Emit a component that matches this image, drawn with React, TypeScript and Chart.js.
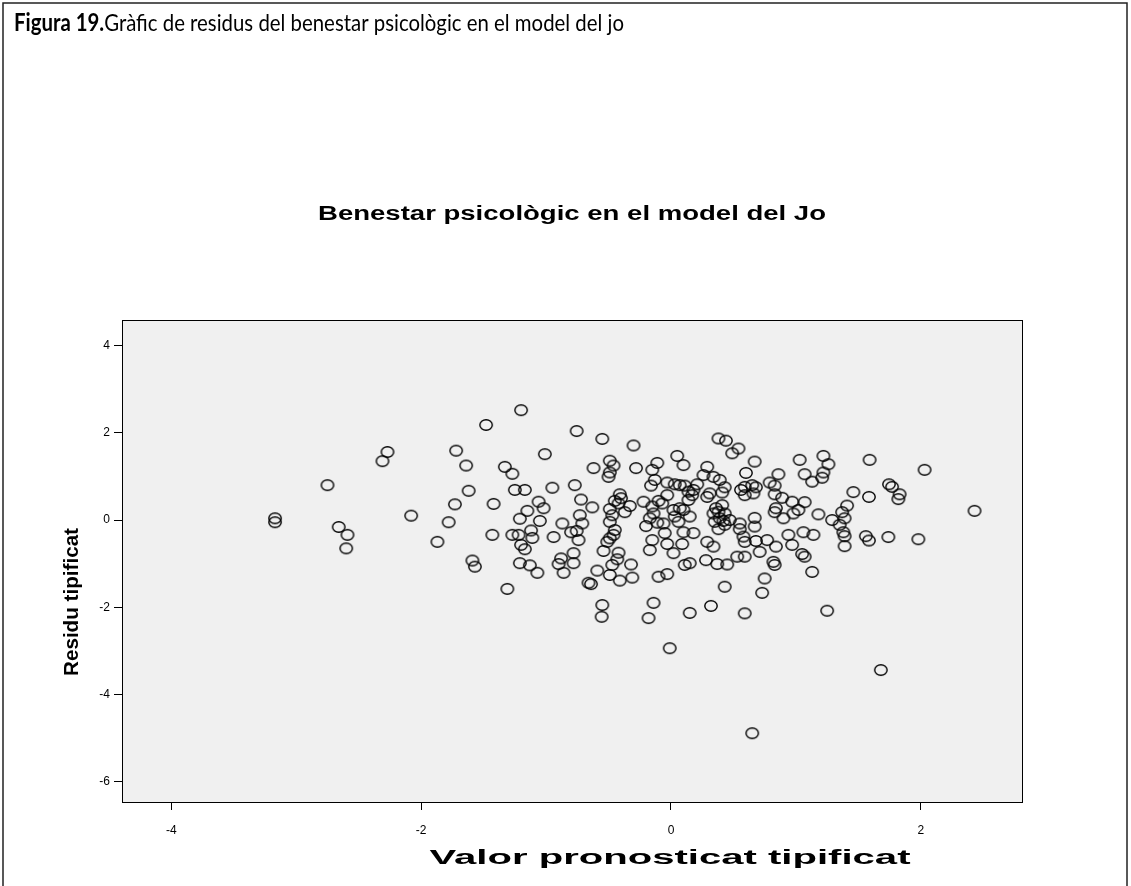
import React, { useEffect, useRef } from 'react';
import { Chart, registerables } from 'chart.js';

Chart.register(...registerables);

const captionBold = 'Figura 19.';
const captionText = 'Gràfic de residus del benestar psicològic en el model del jo';
const chartTitle = 'Benestar psicològic en el model del Jo';
const xAxisTitle = 'Valor pronosticat tipificat';
const yAxisTitle = 'Residu tipificat';

const xTickValues = [-4, -2, 0, 2];
const yTickValues = [-6, -4, -2, 0, 2, 4];
const xLimits = [-4.395, 2.818];
const yLimits = [-6.49, 4.587];

// Valor pronosticat tipificat (x)
const predicted = [
  -3.17, -3.17, -2.75, -2.66, -2.59, -2.60, -2.31, -2.27, -2.08, -1.87,
  -1.20, -1.48, -1.72, -1.01, -1.64, -1.33, -1.27, -1.62, -1.25, -1.17,
  -0.95, -1.73, -1.42, -1.06, -1.02, -1.15, -1.21, -1.05, -1.78, -0.87,
  -1.43, -1.27, -1.22, -1.12, -1.11, -0.94, -1.20, -1.17, -1.59, -1.57,
  -1.21, -1.13, -1.07, -0.88, -0.90, -0.86, -1.31,
  -0.755, -0.55, -0.30, -0.49, -0.46, -0.49, -0.50, -0.62, -0.28, -0.15,
  -0.11, -0.13, -0.16, -0.77, -0.72, -0.63, -0.41, -0.40, -0.45, -0.42,
  -0.33, -0.49, -0.37, -0.47, -0.22, -0.15, -0.10, -0.14, -0.17, -0.20,
  -0.73, -0.71, -0.49, -0.45, -0.11,
  -0.80, -0.74, -0.755, -0.51, -0.49, -0.46, -0.54, -0.15, -0.17, -0.78,
  -0.78, -0.42, -0.43, -0.47, -0.32, -0.59, -0.49, -0.41, -0.31, -0.10,
  -0.66, -0.64, -0.55, -0.555, -0.14, -0.18,
  0.38, 0.44, 0.54, 0.49, 0.05, 0.10, 0.67, 0.60, 0.29, 0.26,
  0.34, 0.39, 0.43, 0.41, -0.03, 0.03, 0.07, 0.11, 0.21, 0.14,
  0.18, 0.17, 0.14, -0.03, -0.07, 0.29, 0.31, 0.41, 0.36, 0.34,
  0.38, 0.43, 0.39, 0.42, 0.47, 0.35, 0.38, 0.43, 0.56, 0.59,
  0.65, 0.68, 0.66, 0.59, 0.02, 0.07, 0.10, 0.03, 0.15, 0.06,
  -0.06, 0.55, 0.67, 0.67, -0.05, 0.10, 0.18, 0.55,
  0.58, -0.03, 0.09, 0.02, 0.29, 0.34, 0.59, 0.68, 0.28, 0.11,
  0.15, 0.37, 0.45, 0.53, 0.59, 0.71, -0.03, 0.43, 0.32, 0.15,
  0.59, -0.01,
  1.22, 1.26, 1.03, 1.07, 1.22, 1.21, 1.13, 0.86, 0.79, 0.83,
  0.83, 0.89, 0.97, 1.07, 1.02, 0.98, 0.84, 0.83, 0.90, 1.18,
  1.46, 1.41, 1.37, 1.39, 1.29, 1.35, 1.59, 1.585, 0.94, 1.06,
  1.14, 1.38, 1.39, 0.77, 0.84, 0.97, 0.82, 0.83, 1.05, 1.07,
  1.13, 0.75, 0.73, 1.25, 1.39, 1.56, 1.585,
  2.03, 1.745, 1.77, 1.83, 1.82, 2.43, 1.74, 1.98, 1.68, 0.65,
];

// Residu tipificat (y)
const residual = [
  0.04, -0.05, 0.80, -0.16, -0.34, -0.65, 1.35, 1.56, 0.10, -0.50,
  2.52, 2.18, 1.59, 1.51, 1.25, 1.22, 1.06, 0.67, 0.69, 0.69,
  0.74, 0.36, 0.37, 0.42, 0.27, 0.21, 0.03, -0.02, -0.05, -0.08,
  -0.34, -0.34, -0.34, -0.24, -0.41, -0.39, -0.57, -0.67, -0.93, -1.07,
  -0.99, -1.04, -1.21, -0.88, -1.01, -1.21, -1.58,
  2.04, 1.86, 1.71, 1.36, 1.25, 1.09, 0.99, 1.19, 1.19, 1.15,
  1.31, 0.92, 0.79, 0.80, 0.47, 0.29, 0.59, 0.50, 0.44, 0.38,
  0.32, 0.25, 0.18, 0.11, 0.42, 0.31, 0.44, 0.15, 0.04, -0.14,
  0.11, -0.08, -0.04, -0.23, -0.06,
  -0.28, -0.46, -0.25, -0.50, -0.42, -0.34, -0.71, -0.46, -0.69, -0.76,
  -0.99, -0.75, -0.90, -1.03, -1.02, -1.16, -1.26, -1.39, -1.32, -1.30,
  -1.44, -1.47, -1.95, -2.22, -1.90, -2.25,
  1.87, 1.82, 1.64, 1.53, 1.47, 1.26, 1.34, 1.08, 1.22, 1.03,
  0.99, 0.92, 0.75, 0.63, 0.86, 0.82, 0.80, 0.79, 0.82, 0.65,
  0.69, 0.57, 0.46, 0.57, 0.38, 0.53, 0.61, 0.34, 0.27, 0.15,
  0.19, 0.15, 0.04, -0.02, 0.00, -0.04, -0.21, -0.11, 0.69, 0.57,
  0.80, 0.75, 0.61, 0.76, 0.23, 0.27, 0.23, 0.08, 0.08, -0.04,
  -0.08, -0.08, 0.05, -0.15, -0.30, -0.28, -0.30, -0.21,
  -0.38, -0.55, -0.55, -0.76, -0.50, -0.61, -0.50, -0.48, -0.92, -1.03,
  -0.99, -1.01, -1.02, -0.84, -0.84, -0.73, -1.24, -1.53, -1.97, -2.13,
  -2.14, -2.94,
  1.47, 1.28, 1.38, 1.05, 1.09, 0.97, 0.88, 1.05, 0.86, 0.79,
  0.59, 0.51, 0.42, 0.41, 0.23, 0.15, 0.27, 0.18, 0.04, 0.13,
  0.64, 0.33, 0.18, 0.04, 0.00, -0.11, 1.38, 0.53, -0.34, -0.28,
  -0.34, -0.28, -0.37, -0.46, -0.61, -0.57, -0.96, -1.03, -0.78, -0.84,
  -1.19, -1.34, -1.67, -2.08, -0.60, -0.37, -0.47,
  1.15, 0.82, 0.76, 0.59, 0.48, 0.21, -0.39, -0.44, -3.44, -4.89,
];

function makeRing(): HTMLCanvasElement {
  const c = document.createElement('canvas');
  c.width = 16;
  c.height = 14;
  const g = c.getContext('2d')!;
  g.strokeStyle = '#000';
  g.lineWidth = 1.4;
  g.beginPath();
  g.ellipse(8, 7, 6.2, 5.2, 0, 0, Math.PI * 2);
  g.stroke();
  return c;
}

function stretched(
  ctx: CanvasRenderingContext2D,
  text: string,
  cx: number,
  cy: number,
  font: string,
  targetW: number,
  rotate = false
) {
  ctx.save();
  ctx.font = font;
  const w = ctx.measureText(text).width;
  const s = targetW / w;
  ctx.translate(cx, cy);
  if (rotate) ctx.rotate(-Math.PI / 2);
  ctx.scale(s, 1);
  ctx.textAlign = 'center';
  ctx.textBaseline = 'middle';
  ctx.fillStyle = '#000';
  ctx.fillText(text, 0, 0);
  ctx.restore();
}

const decor = {
  id: 'decor',
  beforeDraw(chart: any) {
    const { ctx, chartArea: a } = chart;
    ctx.save();
    ctx.fillStyle = '#fff';
    ctx.fillRect(0, 0, chart.width, chart.height);
    ctx.fillStyle = '#f0f0f0';
    ctx.fillRect(a.left, a.top, a.right - a.left, a.bottom - a.top);
    ctx.restore();
  },
  afterDraw(chart: any) {
    const { ctx, chartArea: a } = chart;
    ctx.save();
    ctx.strokeStyle = '#000';
    ctx.lineWidth = 1;
    ctx.strokeRect(a.left + 0.5, a.top + 0.5, a.right - a.left - 1, a.bottom - a.top - 1);
    // outer figure frame
    ctx.lineWidth = 1.5;
    ctx.strokeStyle = '#222';
    ctx.strokeRect(3, 3, 1124, 1000);
    // caption
    const fb = 'bold 24px Lato, "Open Sans", sans-serif';
    const fn = '24px Lato, "Open Sans", sans-serif';
    ctx.font = fb;
    const wb = ctx.measureText(captionBold).width;
    ctx.font = fn;
    const wn = ctx.measureText(captionText).width;
    const s = 610 / (wb + wn);
    ctx.translate(14, 31);
    ctx.scale(s, 1);
    ctx.fillStyle = '#000';
    ctx.textBaseline = 'alphabetic';
    ctx.textAlign = 'left';
    ctx.font = fb;
    ctx.fillText(captionBold, 0, 0);
    ctx.font = fn;
    ctx.fillText(captionText, wb, 0);
    ctx.restore();
    const tf = 'bold 20px "Liberation Sans", Arial, sans-serif';
    stretched(ctx, chartTitle, 572, 214, tf, 508);
    stretched(ctx, xAxisTitle, 670, 858, tf, 481);
    stretched(ctx, yAxisTitle, 72, 602, tf, 148, true);
  },
};

export default function App() {
  const ref = useRef<HTMLCanvasElement>(null);
  useEffect(() => {
    const ring = makeRing();
    const pts = predicted.map((x, i) => ({ x, y: residual[i] }));
    const tickFont = { family: '"Liberation Sans", Arial, sans-serif', size: 12 };
    const chart = new Chart(ref.current!, {
      type: 'scatter',
      data: {
        datasets: [
          {
            data: pts,
            pointStyle: ring as any,
            pointRadius: 6,
            pointHoverRadius: 6,
            showLine: false,
          },
        ],
      },
      options: {
        animation: false,
        responsive: false,
        devicePixelRatio: 1,
        events: [],
        layout: { padding: { left: 0, top: 320, right: 108, bottom: 0 } },
        plugins: { legend: { display: false }, title: { display: false }, tooltip: { enabled: false } },
        scales: {
          x: {
            type: 'linear',
            min: xLimits[0],
            max: xLimits[1],
            afterBuildTicks: (s: any) => {
              s.ticks = xTickValues.map((v) => ({ value: v }));
            },
            afterFit: (s: any) => {
              s.height = 83;
            },
            grid: { drawOnChartArea: false, tickLength: 7, color: '#000' },
            border: { display: false },
            ticks: { color: '#000', font: tickFont, padding: 13, maxRotation: 0 },
          },
          y: {
            type: 'linear',
            min: yLimits[0],
            max: yLimits[1],
            afterBuildTicks: (s: any) => {
              s.ticks = yTickValues.map((v) => ({ value: v }));
            },
            afterFit: (s: any) => {
              s.width = 122;
            },
            grid: { drawOnChartArea: false, tickLength: 8, color: '#000' },
            border: { display: false },
            ticks: { color: '#000', font: tickFont, padding: 4 },
          },
        },
      },
      plugins: [decor],
    });
    return () => chart.destroy();
  }, []);
  return (
    <div style={{ position: 'absolute', left: 0, top: 0, width: 1131, height: 886, overflow: 'hidden', background: '#fff' }}>
      <canvas ref={ref} width={1131} height={886} style={{ display: 'block' }} />
    </div>
  );
}
